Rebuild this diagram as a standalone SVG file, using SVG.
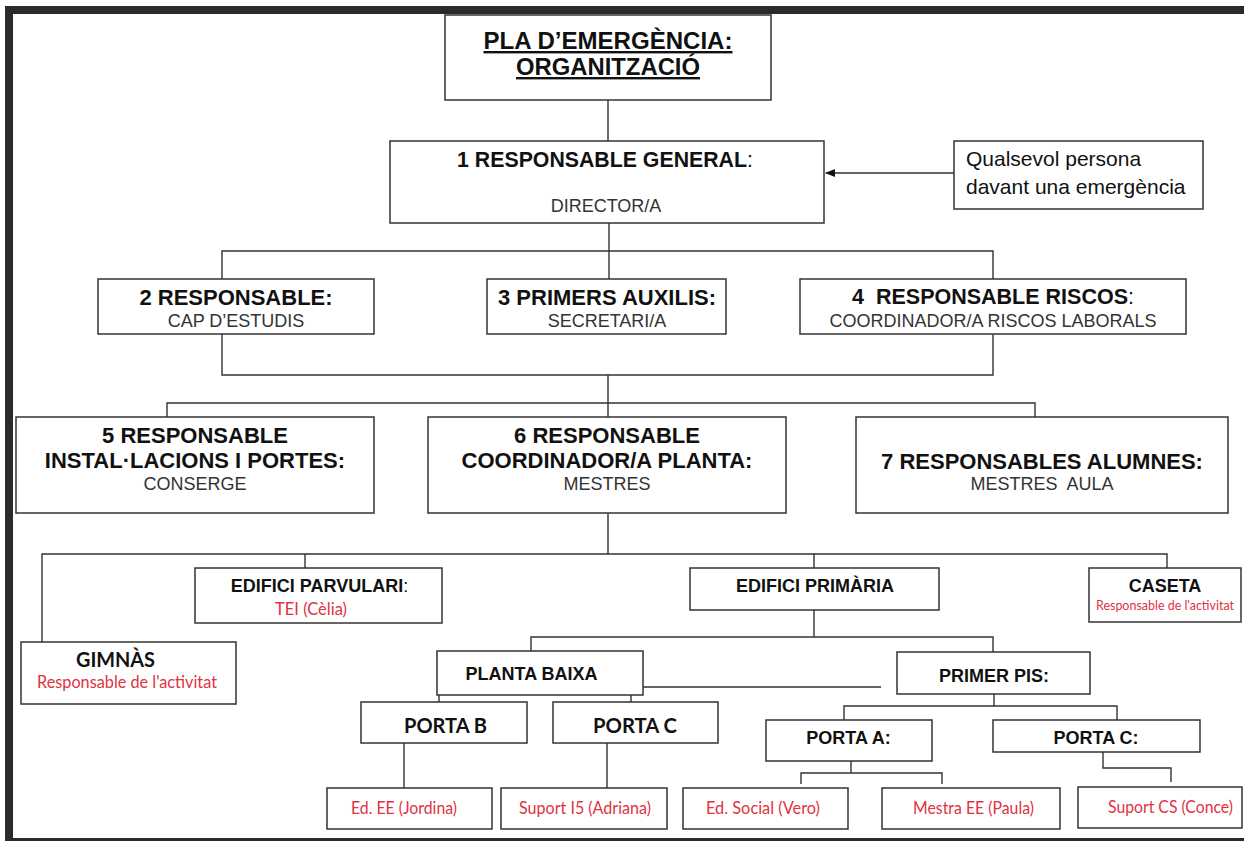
<svg xmlns="http://www.w3.org/2000/svg" width="1244" height="841" viewBox="0 0 1244 841">
<defs>
<style>
.box{fill:#fff;stroke:#333;stroke-width:1.5}
.ln{stroke:#333;stroke-width:1.4;fill:none}
.h{font-family:"Liberation Sans",Arial,sans-serif;font-weight:bold;fill:#111;text-anchor:middle}
.h22{font-size:22px}
.h18{font-size:18px}
.s{font-family:"Liberation Sans",Arial,sans-serif;font-size:18px;fill:#333;text-anchor:middle}
.nb{font-weight:normal}
.cb{font-family:Lato,"Open Sans",sans-serif;font-weight:bold;font-size:21px;fill:#111;text-anchor:middle}
.r{font-family:Lato,"Open Sans",sans-serif;fill:#e0323f;text-anchor:middle}
</style>
<marker id="ah" markerWidth="10" markerHeight="8" refX="9" refY="4" orient="auto" markerUnits="userSpaceOnUse">
<path d="M0,0 L10,4 L0,8 Z" fill="#111"/>
</marker>
</defs>
<rect width="1244" height="841" fill="#fff"/>
<g id="frame">
<rect x="6" y="6" width="1238" height="8" fill="#2b2b2b"/>
<rect x="5" y="6" width="8" height="835" fill="#2b2b2b"/>
<rect x="5" y="838" width="1239" height="3" fill="#2b2b2b"/>
</g>
<g id="connectors">
<path class="ln" d="M608,100 V141"/>
<path class="ln" d="M954,173 H826" marker-end="url(#ah)"/>
<path class="ln" d="M609,223 V251 M222,279 V251 H993 V279 M609,251 V279"/>
<path class="ln" d="M222,334 V375 H993 V334 M608,375 V417 M167,417 V403 H1035 V417"/>
<path class="ln" d="M608,513 V554 M42,642 V554 H1167 V568 M305,554 V568 M814,554 V568"/>
<path class="ln" d="M814,610 V637 M531,651 V637 H993 V652"/>
<path class="ln" d="M643,687 H881"/>
<path class="ln" d="M439,695 V702 M631,695 V702 M404,743 V788 M607,743 V788"/>
<path class="ln" d="M994,694 V706 M844,720 V706 H1117 V720"/>
<path class="ln" d="M851,761 V773 M801,784 V773 H942 V784"/>
<path class="ln" d="M1103,752 V768 H1171 V782"/>
</g>
<g id="title">
<rect class="box" x="445" y="15" width="326" height="85"/>
<text class="h" x="608" y="49" font-size="24" text-decoration="underline" textLength="249" lengthAdjust="spacingAndGlyphs">PLA D’EMERGÈNCIA:</text>
<text class="h" x="608" y="75" font-size="24" text-decoration="underline" textLength="184" lengthAdjust="spacingAndGlyphs">ORGANITZACIÓ</text>
</g>
<g id="n1">
<rect class="box" x="390" y="141" width="434" height="82"/>
<text class="h" x="605" y="167" font-size="21.3">1 RESPONSABLE GENERAL<tspan class="nb">:</tspan></text>
<text class="s" x="606" y="212">DIRECTOR/A</text>
</g>
<g id="qualsevol">
<rect class="box" x="954" y="141" width="249" height="68"/>
<text font-family="Liberation Sans, Arial, sans-serif" font-size="21" fill="#111" x="966" y="166">Qualsevol persona</text>
<text font-family="Liberation Sans, Arial, sans-serif" font-size="21" fill="#111" x="966" y="194">davant una emergència</text>
</g>
<g id="n2">
<rect class="box" x="98" y="279" width="276" height="55"/>
<text class="h h22" x="236" y="305">2 RESPONSABLE:</text>
<text class="s" x="236" y="327">CAP D’ESTUDIS</text>
</g>
<g id="n3">
<rect class="box" x="487" y="279" width="239" height="55"/>
<text class="h h22" x="607" y="305">3 PRIMERS AUXILIS:</text>
<text class="s" x="607" y="327">SECRETARI/A</text>
</g>
<g id="n4">
<rect class="box" x="800" y="279" width="386" height="55"/>
<text class="h" x="993" y="304" font-size="21.5" style="white-space:pre">4  RESPONSABLE RISCOS<tspan class="nb">:</tspan></text>
<text class="s" x="993" y="327">COORDINADOR/A RISCOS LABORALS</text>
</g>
<g id="n5">
<rect class="box" x="16" y="417" width="358" height="96"/>
<text class="h h22" x="195" y="443">5 RESPONSABLE</text>
<text class="h h22" x="195" y="468">INSTAL·LACIONS I PORTES:</text>
<text class="s" x="195" y="490">CONSERGE</text>
</g>
<g id="n6">
<rect class="box" x="428" y="417" width="358" height="96"/>
<text class="h h22" x="607" y="443">6 RESPONSABLE</text>
<text class="h h22" x="607" y="468">COORDINADOR/A PLANTA:</text>
<text class="s" x="607" y="490">MESTRES</text>
</g>
<g id="n7">
<rect class="box" x="856" y="417" width="372" height="96"/>
<text class="h h22" x="1042" y="469">7 RESPONSABLES ALUMNES:</text>
<text class="s" x="1042" y="490" style="white-space:pre">MESTRES  AULA</text>
</g>
<g id="gimnas">
<rect class="box" x="21" y="642" width="215" height="62"/>
<text class="cb" x="115.5" y="667" textLength="79" lengthAdjust="spacingAndGlyphs">GIMNÀS</text>
<text class="r" x="127" y="688" font-size="17" textLength="180" lengthAdjust="spacingAndGlyphs">Responsable de l'activitat</text>
</g>
<g id="parvulari">
<rect class="box" x="195" y="568" width="247" height="55"/>
<text class="h h18" x="319.5" y="592">EDIFICI PARVULARI<tspan class="nb">:</tspan></text>
<text class="r" x="311" y="615" font-size="17" textLength="72" lengthAdjust="spacingAndGlyphs">TEI (Cèlia)</text>
</g>
<g id="primaria">
<rect class="box" x="690" y="568" width="249" height="42"/>
<text class="h h18" x="815" y="592">EDIFICI PRIMÀRIA</text>
</g>
<g id="caseta">
<rect class="box" x="1089" y="568" width="152" height="54"/>
<text class="h h18" x="1165" y="592">CASETA</text>
<text class="r" x="1165" y="610" font-size="13.5" textLength="138" lengthAdjust="spacingAndGlyphs">Responsable de l'activitat</text>
</g>
<g id="plantabaixa">
<rect class="box" x="437" y="651" width="206" height="44"/>
<text class="h h18" x="531.5" y="680">PLANTA BAIXA</text>
</g>
<g id="primerpis">
<rect class="box" x="897" y="652" width="193" height="42"/>
<text class="h h18" x="994" y="682">PRIMER PIS:</text>
</g>
<g id="portab">
<rect class="box" x="361" y="702" width="166" height="41"/>
<text class="cb" x="445.5" y="733" textLength="83" lengthAdjust="spacingAndGlyphs">PORTA B</text>
</g>
<g id="portac1">
<rect class="box" x="553" y="702" width="165" height="41"/>
<text class="cb" x="635" y="733" textLength="84" lengthAdjust="spacingAndGlyphs">PORTA C</text>
</g>
<g id="portaa">
<rect class="box" x="766" y="720" width="166" height="41"/>
<text class="h h18" x="848.5" y="744">PORTA A:</text>
</g>
<g id="portac2">
<rect class="box" x="993" y="720" width="207" height="32"/>
<text class="h h18" x="1096" y="744">PORTA C:</text>
</g>
<g id="edee">
<rect class="box" x="327" y="788" width="165" height="41"/>
<text class="r" x="404" y="814" font-size="17" textLength="106" lengthAdjust="spacingAndGlyphs">Ed. EE (Jordina)</text>
</g>
<g id="suporti5">
<rect class="box" x="501" y="788" width="166" height="41"/>
<text class="r" x="585" y="814" font-size="17" textLength="132" lengthAdjust="spacingAndGlyphs">Suport I5 (Adriana)</text>
</g>
<g id="edsocial">
<rect class="box" x="683" y="788" width="165" height="41"/>
<text class="r" x="763" y="814" font-size="17" textLength="114" lengthAdjust="spacingAndGlyphs">Ed. Social (Vero)</text>
</g>
<g id="mestraee">
<rect class="box" x="882" y="788" width="178" height="41"/>
<text class="r" x="973.5" y="814" font-size="17" textLength="121" lengthAdjust="spacingAndGlyphs">Mestra EE (Paula)</text>
</g>
<g id="suportcs">
<rect class="box" x="1078" y="787" width="164" height="41"/>
<text class="r" x="1170.5" y="813" font-size="17" textLength="125" lengthAdjust="spacingAndGlyphs">Suport CS (Conce)</text>
</g>
</svg>
